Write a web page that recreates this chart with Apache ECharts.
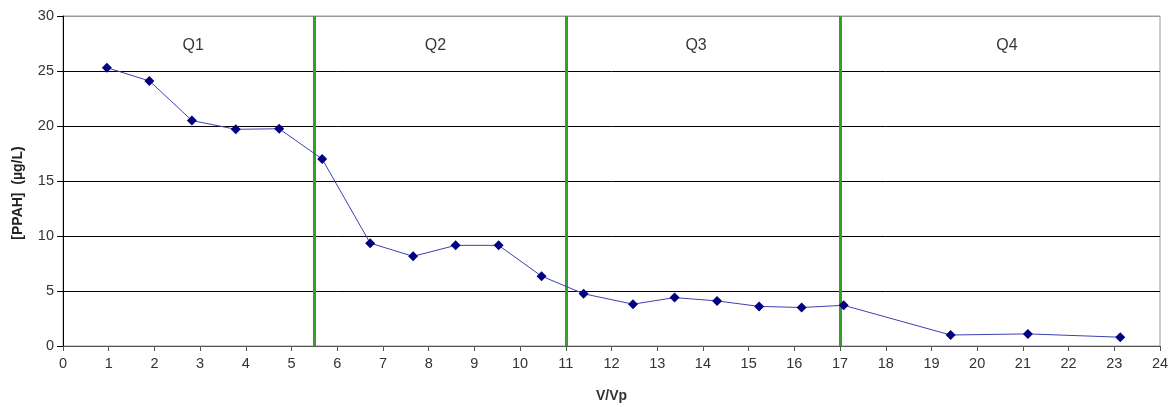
<!DOCTYPE html>
<html>
<head>
<meta charset="utf-8">
<script src="https://cdn.jsdelivr.net/npm/echarts@6/dist/echarts.min.js"></script>
<style>html,body{margin:0;padding:0;background:#fff;}#chart{width:1174px;height:407px;}</style>
</head>
<body>
<div id="chart"></div>
<script>
const xValues = [0.96, 1.89, 2.82, 3.78, 4.73, 5.67, 6.72, 7.66, 8.59, 9.53, 10.47, 11.39, 12.47, 13.38, 14.31, 15.23, 16.16, 17.08, 19.42, 21.11, 23.13];
const yValues = [25.3, 24.1, 20.5, 19.7, 19.75, 17.0, 9.35, 8.15, 9.15, 9.15, 6.35, 4.75, 3.8, 4.4, 4.1, 3.6, 3.5, 3.7, 1.0, 1.1, 0.8];
const boundaries = [5.5, 11, 17];
const quarterLabels = ['Q1', 'Q2', 'Q3', 'Q4'];
const quarterX = [2.85, 8.15, 13.85, 20.65];
const quarterY = 27.3;

const chart = echarts.init(document.getElementById('chart'));
const font = 'Liberation Sans, Arial, sans-serif';
chart.setOption({
  animation: false,
  grid: { left: 63, right: 14, top: 16, bottom: 61, show: true, borderColor: '#999', borderWidth: 1, containLabel: false, outerBoundsMode: 'none' },
  xAxis: {
    type: 'value', min: 0, max: 24, interval: 1,
    name: 'V/Vp', nameLocation: 'middle', nameGap: 43,
    nameTextStyle: { fontFamily: font, fontSize: 14, fontWeight: 'bold', color: '#333' },
    axisLine: { show: true, lineStyle: { color: '#555', width: 1 } },
    axisTick: { show: true, inside: false, length: 5, lineStyle: { color: '#555' } },
    axisLabel: { fontFamily: font, fontSize: 14.5, color: '#333', margin: 10 },
    splitLine: { show: false }
  },
  yAxis: {
    type: 'value', min: 0, max: 30, interval: 5,
    name: '[PPAH]  (µg/L)', nameLocation: 'middle', nameGap: 38, nameRotate: 90,
    nameTextStyle: { fontFamily: font, fontSize: 14, fontWeight: 'bold', color: '#222', padding: [0, 24, 0, 0] },
    axisLine: { show: true, lineStyle: { color: '#000', width: 1 } },
    axisTick: { show: true, inside: false, length: 6, lineStyle: { color: '#000' } },
    axisLabel: { fontFamily: font, fontSize: 14.5, color: '#333', margin: 9 },
    splitLine: { show: true, lineStyle: { color: ['#000', '#000', '#000', '#000', '#000', '#000', '#999'], width: 1 } }
  },
  series: [
    {
      type: 'line',
      data: xValues.map((x, i) => [x, yValues[i]]),
      symbol: 'diamond', symbolSize: 10,
      itemStyle: { color: '#000080' },
      lineStyle: { color: '#4040b0', width: 1 },
      z: 5,
      markLine: {
        silent: true, symbol: 'none', label: { show: false },
        lineStyle: { color: '#33a02c', width: 3, type: 'solid' },
        data: boundaries.map(b => ({ xAxis: b }))
      }
    },
    {
      type: 'scatter',
      data: quarterX.map((x, i) => ({ value: [x, quarterY], name: quarterLabels[i] })),
      symbolSize: 0,
      silent: true,
      label: { show: true, position: 'inside', formatter: p => p.name, fontFamily: font, fontSize: 16, color: '#000' }
    }
  ]
});
</script>
</body>
</html>
